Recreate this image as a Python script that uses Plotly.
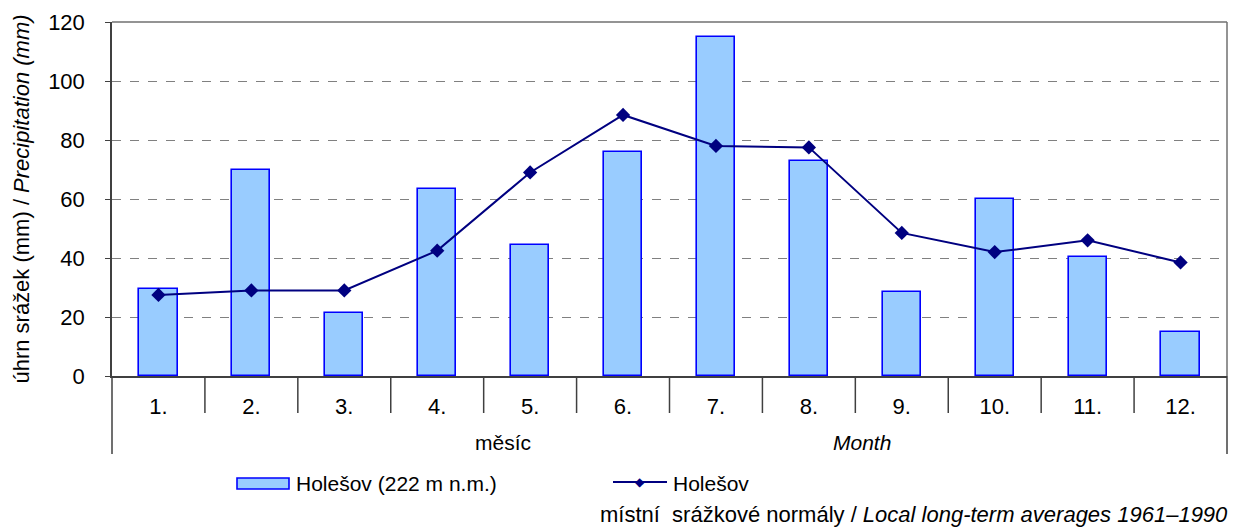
import plotly.graph_objects as go

months = list(range(1, 13))
month_labels = ["1.", "2.", "3.", "4.", "5.", "6.", "7.", "8.", "9.", "10.", "11.", "12."]
bar_values = [29.5, 70, 21.5, 63.5, 44.5, 76, 115, 73, 28.5, 60, 40.5, 15]
line_values = [27.5, 29, 29, 42.5, 69, 88.5, 78, 77.5, 48.5, 42, 46, 38.5]
bar_name = "Holešov (222 m n.m.)"
line_name = "Holešov"

W, H = 1234, 530
L, R, T, B = 112, 1227, 22, 376
FONT = "Liberation Sans, Arial, sans-serif"
FS = 21

def px(x):
    return (x - L) / (R - L)

def py(y):
    return (B - y) / (B - T)

fig = go.Figure()
fig.add_trace(go.Bar(
    x=months, y=bar_values, name=bar_name, width=0.41,
    marker=dict(color="#99CCFF", line=dict(color="#0000FF", width=1.6)),
    showlegend=False,
))
fig.add_trace(go.Scatter(
    x=months, y=line_values, name=line_name, mode="lines+markers",
    line=dict(color="#000080", width=2),
    marker=dict(symbol="diamond", size=11, color="#000080"),
    showlegend=False,
))

shapes = []
for k in range(0, 13):
    x = k / 12
    y_end = py(454) if k in (0, 12) else py(413)
    shapes.append(dict(type="line", xref="paper", yref="paper", x0=x, x1=x,
                       y0=0, y1=y_end, line=dict(color="#404040", width=1.5)))
shapes.append(dict(type="line", xref="paper", yref="paper", x0=0, x1=1, y0=1, y1=1,
                   line=dict(color="#707070", width=1.5)))
shapes.append(dict(type="line", xref="paper", yref="paper", x0=1, x1=1, y0=0, y1=1,
                   line=dict(color="#707070", width=1.5)))
shapes.append(dict(type="rect", xref="paper", yref="paper", x0=px(237), x1=px(289),
                   y0=py(489), y1=py(478), fillcolor="#99CCFF",
                   line=dict(color="#0000FF", width=1.6)))
shapes.append(dict(type="line", xref="paper", yref="paper", x0=px(613), x1=px(667),
                   y0=py(482), y1=py(482), line=dict(color="#000080", width=2)))

annotations = [
    dict(text=bar_name, x=px(294), y=py(483), xref="paper", yref="paper",
         xanchor="left", yanchor="middle", showarrow=False,
         font=dict(family=FONT, size=FS, color="black")),
    dict(text=line_name, x=px(671), y=py(483), xref="paper", yref="paper",
         xanchor="left", yanchor="middle", showarrow=False,
         font=dict(family=FONT, size=FS, color="black")),
    dict(text="◆", x=px(640), y=py(482), xref="paper", yref="paper",
         xanchor="center", yanchor="middle", showarrow=False,
         font=dict(family="DejaVu Sans", size=12, color="#000080")),
    dict(text="měsíc", x=px(503), y=py(442), xref="paper", yref="paper",
         xanchor="center", yanchor="middle", showarrow=False,
         font=dict(family=FONT, size=FS, color="black")),
    dict(text="<i>Month</i>", x=px(862), y=py(442), xref="paper", yref="paper",
         xanchor="center", yanchor="middle", showarrow=False,
         font=dict(family=FONT, size=FS, color="black")),
    dict(text="místní  srážkové normály / <i>Local long-term averages 1961–1990</i>",
         x=px(1230), y=py(514), xref="paper", yref="paper",
         xanchor="right", yanchor="middle", showarrow=False,
         font=dict(family=FONT, size=22, color="black")),
]

fig.update_layout(
    width=W, height=H,
    margin=dict(l=L, r=W - R, t=T, b=H - B, pad=0),
    paper_bgcolor="white", plot_bgcolor="white",
    font=dict(family=FONT, size=FS, color="black"),
    bargap=0,
    shapes=shapes,
    annotations=annotations,
    showlegend=False,
    xaxis=dict(
        range=[0.5, 12.5], tickvals=months, ticktext=month_labels,
        showgrid=False, zeroline=False, ticks="",
        showline=True, linecolor="#404040", linewidth=1.5,
        ticklabelstandoff=10, tickfont=dict(size=22),
    ),
    yaxis=dict(
        range=[0, 120], tickvals=[0, 20, 40, 60, 80, 100, 120],
        showgrid=True, gridcolor="#808080", griddash="dash", gridwidth=1.2,
        zeroline=False, ticks="outside", ticklen=5, tickcolor="#404040",
        showline=True, linecolor="#404040", linewidth=1.5,
        ticklabelstandoff=16, tickfont=dict(size=22),
        title=dict(text="úhrn srážek (mm) / <i>Precipitation (mm)</i>",
                   font=dict(size=22), standoff=12),
    ),
)

fig.write_html("out.html", config={"displayModeBar": False},
               post_script="document.body.style.margin='0';")
